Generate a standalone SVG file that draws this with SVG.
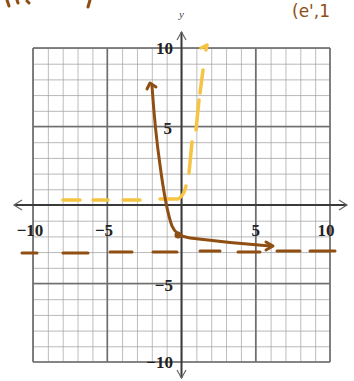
<svg xmlns="http://www.w3.org/2000/svg" width="354" height="381" viewBox="0 0 354 381">
<style>
.minor{stroke:#9a9a9a;stroke-width:1;fill:none}
.major{stroke:#6e6e6e;stroke-width:1.6;fill:none}
.axis{stroke:#3a3a3a;stroke-width:2;fill:none}
.arrow{stroke:#666;stroke-width:1.2;fill:none}
.lbl{font-family:"Liberation Serif",serif;font-weight:bold;font-size:17px;fill:#222}
.brown{stroke:#8f4e12;stroke-linecap:round;stroke-linejoin:round;fill:none}
.yellow{stroke:#f6c342;stroke-linecap:round;stroke-linejoin:round;fill:none}
</style>
<rect width="354" height="381" fill="#fff"/>
<defs>
<pattern id="cell" patternUnits="userSpaceOnUse" x="33" y="48" width="14.85" height="15.7">
<path d="M0,0 H14.85 M0,0 V15.7" stroke="#a0a0a0" stroke-width="1.4"/>
</pattern>
</defs>
<g id="grid">
<rect x="33" y="48" width="297" height="314" fill="url(#cell)"/>
<path class="minor" d="M33,48 H330 V362 H33 Z"/>
<path class="major" d="M107.25,48 V362 M255.75,48 V362 M33,126.5 H330 M33,283.5 H330 M33,48 H330 M33,362 H330 M33,48 V362 M330,48 V362"/>
</g>
<g id="axes">
<path class="axis" d="M14,205 H347 M181.5,32 V378"/>
<path class="arrow" d="M22,200 L14,205 L22,210 M339,200 L347,205 L339,210 M177,40 L181.5,32 L186,40 M177,370 L181.5,378 L186,370"/>
<text x="181.5" y="18" text-anchor="middle" style="font-family:'Liberation Serif',serif;font-style:italic;font-size:11px;fill:#444">y</text>
</g>
<g id="labels">
<text class="lbl" x="173" y="54" text-anchor="end">10</text>
<text class="lbl" x="172" y="134" text-anchor="end">5</text>
<text class="lbl" x="173" y="291" text-anchor="end">−5</text>
<text class="lbl" x="173" y="368" text-anchor="end">−10</text>
<text class="lbl" x="30" y="236" text-anchor="middle">−10</text>
<text class="lbl" x="104" y="236" text-anchor="middle">−5</text>
<text class="lbl" x="255.75" y="236" text-anchor="middle">5</text>
<text class="lbl" x="326" y="236" text-anchor="middle">10</text>
</g>
<g id="handwriting">
<text x="292" y="17" style="font-family:'DejaVu Sans',sans-serif;font-size:17px;fill:#8f4e12">(e',1</text>
<path class="brown" stroke-width="3" d="M7,0 L9,6 M17,0 L18,3 M27,1 L29,3 M90,0 L88,7"/>
</g>
<g id="connectors">
<path class="brown" stroke-width="3" d="M22,253 H37 M63,253 H88 M110,252 H132 M153,252 H177 M200,251 H220 M238,252 H260 M277,251 H300 M310,251 H335"/>
<path class="yellow" stroke-width="3.5" d="M63,200 H80 M93,200 H108 M123,200 H140 M160,199 H178 Q184,196 186,186 M189,173 L192,142 M196,130 L199,100 M200,93 L203,70 M201,48 L207,45 L206,50"/>
<path class="brown" stroke-width="3" d="M152,86 Q155,130 160,165 Q166,210 172,226 Q176,236 190,238 Q230,243 270,246"/>
<path class="brown" stroke-width="3" d="M147,89 L150,83 L156,87"/>
<path class="brown" stroke-width="3" d="M266,242 L273,246 L266,250"/>
<circle cx="178" cy="235" r="3.5" fill="#8f4e12"/>
</g>
</svg>
